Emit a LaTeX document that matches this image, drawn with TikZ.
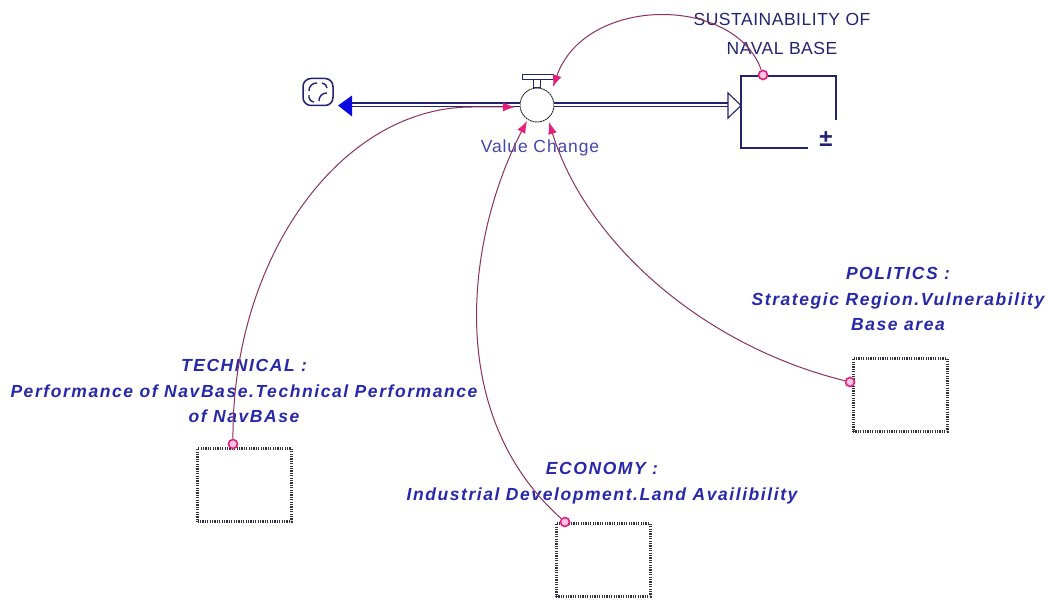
\documentclass[tikz,border=0pt]{standalone}
\usepackage{fontspec}
\setmainfont{Liberation Sans}
\newfontfamily\lblfont[LetterSpace=9]{Liberation Sans}
\newfontfamily\stkfont[LetterSpace=3]{Liberation Sans}
\newfontfamily\vcfont[LetterSpace=5]{Liberation Sans}
\usetikzlibrary{arrows.meta}
\definecolor{lblblue}{RGB}{40,40,170}
\definecolor{vcblue}{RGB}{70,70,175}
\definecolor{navy}{RGB}{35,35,115}
\definecolor{arrblue}{RGB}{10,10,225}
\definecolor{connline}{RGB}{140,50,95}
\definecolor{ctip}{RGB}{228,30,125}
\definecolor{boxgray}{RGB}{50,50,60}
\tikzset{
  auxbox/.style={draw=boxgray, line width=3pt, dash pattern=on 1.2pt off 1.2pt,
    minimum width=94pt, minimum height=73pt, inner sep=0pt, fill=white},
  srcdot/.style={circle, draw=ctip, line width=1.6pt, minimum size=9pt, inner sep=0pt, fill=ctip!25},
  conn/.style={draw=connline, line width=1pt, -{Latex[length=12pt,width=9pt,color=ctip]}},
  pipe/.style={draw=navy, line width=1.3pt, double=white, double distance=2.4pt},
  auxlabel/.style={text=lblblue, align=center, inner sep=0pt,
    font=\lblfont\bfseries\itshape\fontsize{17.5}{25.5}\selectfont},
  stocklabel/.style={text=navy, align=center, inner sep=0pt,
    font=\stkfont\fontsize{17.5}{29}\selectfont},
  stockline/.style={draw=navy, line width=1.6pt}
}
\begin{document}
\begin{tikzpicture}[x=1pt,y=-1pt]
\useasboundingbox[fill=white] (0,0) rectangle (1048,599);

% labels (drawn first so lines pass over them)
\node[stocklabel] (stocklbl) at (782,34) {SUSTAINABILITY OF\\NAVAL BASE};
\node[auxlabel] (techlbl) at (244,391) {TECHNICAL :\\Performance of NavBase.Technical Performance\\of NavBAse};
\node[auxlabel] (pollbl) at (898,299) {POLITICS :\\Strategic Region.Vulnerability\\Base area};
\node[auxlabel] (econlbl) at (602,483) {ECONOMY :\\Industrial Development.Land Availibility};
\node[text=vcblue, inner sep=0pt, font=\vcfont\fontsize{17.5}{20}\selectfont] (vclbl) at (540,148) {Value Change};

% auxiliary boxes
\node[auxbox] (tech) at (244.5,485) {};
\node[auxbox] (econ) at (603,560) {};
\node[auxbox] (pol) at (900,395) {};

% cloud
\node[draw=navy, line width=1.5pt, rounded corners=8pt, minimum width=30pt, minimum height=27pt, inner sep=0pt] (cloud) at (318,92) {};
\draw[navy, line width=1.4pt] (309,91) to[bend left=50] (317,83);
\draw[navy, line width=1.4pt] (319,101) to[bend left=50] (327,93);
\draw[navy, line width=1.4pt] (309,95) to[bend right=50] (314,102);
\draw[navy, line width=1.4pt] (322,83) to[bend left=40] (327,88);

% valve
\node[circle, draw=black!85, line width=0.9pt, dash pattern=on 2pt off 0.6pt, minimum size=34pt, inner sep=0pt, fill=white] (valve) at (537,105) {};
\draw[navy, line width=1pt, fill=white] (533,79.5) rectangle (540,88);
\draw[navy, line width=1pt, fill=white] (522,75) rectangle (553,79.5);

% stock
\node[minimum width=95pt, minimum height=72pt, inner sep=0pt] (stock) at (788.5,112) {};
\draw[stockline] (836,120) -- (836,76) -- (741,76) -- (741,148) -- (808,148);
\node[text=navy, font=\bfseries\fontsize{24}{24}\selectfont, inner sep=0pt] (pm) at (826,139) {±};

% flow pipes
\coordinate (cloudarr) at (352,105);
\coordinate (stockarr) at (728,105);
\draw[pipe] (valve.west) -- (cloudarr);
\draw[pipe] (valve.east) -- (stockarr);
\fill[arrblue] (352,95.5) -- (338,105.5) -- (352,116.5) -- cycle;
\draw[navy, line width=1.1pt, fill=white, line join=miter] (728,93) -- (741,105.5) -- (728,118) -- cycle;

% source dots
\node[srcdot] (techo) at (233,444) {};
\node[srcdot] (econo) at (565,522) {};
\node[srcdot] (polo) at (850,382) {};
\node[srcdot] (susto) at (763,75) {};

% connector targets at the valve
\coordinate (inW) at (515,107);
\coordinate (inSW) at (527,121);
\coordinate (inSE) at (549,122);
\coordinate (inNE) at (553,87);

% connectors
\draw[conn] (techo) .. controls (232,258) and (340,107) .. (472,107) -- (inW);
\draw[conn] (econo) .. controls (440,410) and (470,230) .. (inSW);
\draw[conn] (polo) .. controls (700,345) and (585,240) .. (inSE);
\draw[conn] (susto) .. controls (735,-5) and (585,-5) .. (inNE);
\end{tikzpicture}
\end{document}
